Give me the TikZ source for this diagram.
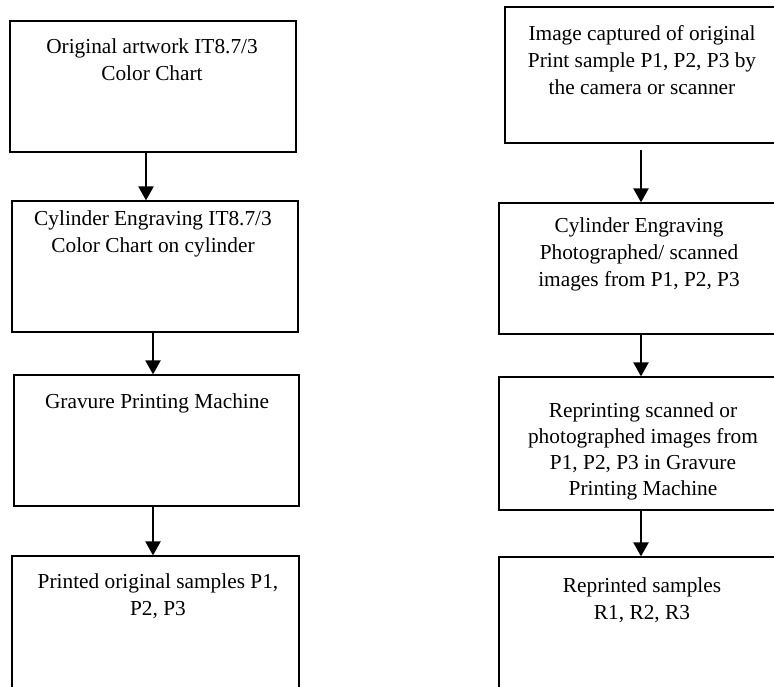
\documentclass[tikz,border=0pt]{standalone}
\usepackage{fontspec}
\setmainfont{Liberation Serif}
\usetikzlibrary{arrows.meta,fit,positioning}

\begin{document}
\begin{tikzpicture}[x=0.75pt, y=-0.75pt,
        box/.style={draw, line width=1pt, inner sep=0pt},
        txt/.style={anchor=north, align=center, inner sep=0pt,
            font=\fontsize{16}{20.5}\selectfont},
        flow/.style={line width=1pt, -{Triangle[width=11.5pt,length=10.5pt]}}]
        \useasboundingbox (0,0) rectangle (774,686);
        \clip (0,0) rectangle (774,686);

        % left column: chart printing
        \node[box, fit={(10,21) (296,152)}]  (L1) {};
        \node[box, fit={(12,201) (298,332)}] (L2) {};
        \node[box, fit={(14,375) (299,506)}] (L3) {};
        \node[box, fit={(12,556) (299,700)}] (L4) {};

        \node[txt] (tL1) at (152,38)  {Original artwork IT8.7/3\\Color Chart};
        \node[txt] (tL2) at (153,210) {Cylinder Engraving IT8.7/3\\Color Chart on cylinder};
        \node[txt] (tL3) at (157,393) {Gravure Printing Machine};
        \node[txt] (tL4) at (158,573) {Printed original samples P1,\\P2, P3};

        % right column: reprinting
        \node[box, fit={(505,7) (778,143)}]   (R1) {};
        \node[box, fit={(499,203) (778,334)}] (R2) {};
        \node[box, fit={(499,377) (778,510)}] (R3) {};
        \node[box, fit={(499,557) (778,700)}] (R4) {};

        \node[txt] (tR1) at (642,25)  {Image captured of original\\Print sample P1, P2, P3 by\\the camera or scanner};
        \node[txt] (tR2) at (639,217) {Cylinder Engraving\\Photographed/ scanned\\images from P1, P2, P3};
        \node[txt, font=\fontsize{16}{19.5}\selectfont] (tR3) at (643,402)
            {Reprinting scanned or\\photographed images from\\P1, P2, P3 in Gravure\\Printing Machine};
        \node[txt] (tR4) at (642,577) {Reprinted samples\\R1, R2, R3};

        % arrows
        \coordinate (a1) at (146,152);
        \coordinate (a2) at (153,332);
        \coordinate (a3) at (153,506);
        \coordinate (b1) at (641,150);
        \coordinate (b2) at (641,334);
        \coordinate (b3) at (641,510);
        \draw[flow] (a1) -- (a1 |- L2.north);
        \draw[flow] (a2) -- (a2 |- L3.north);
        \draw[flow] (a3) -- (a3 |- L4.north);
        \draw[flow] (b1) -- (b1 |- R2.north);
        \draw[flow] (b2) -- (b2 |- R3.north);
        \draw[flow] (b3) -- (b3 |- R4.north);
\end{tikzpicture}
\end{document}
